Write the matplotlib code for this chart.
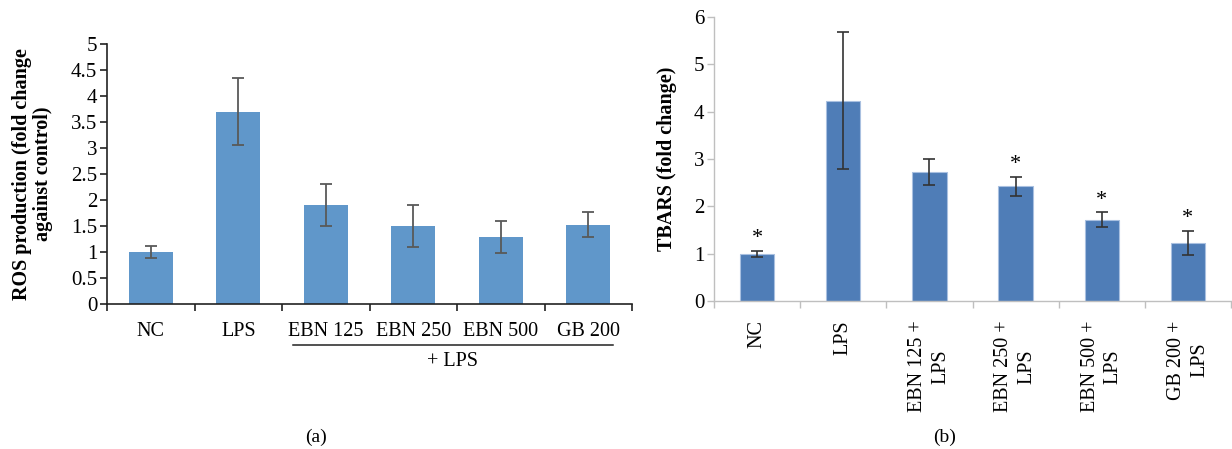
import numpy as np
import matplotlib
matplotlib.use('Agg')
import matplotlib.pyplot as plt
import matplotlib.transforms as mtransforms

plt.rcParams['font.family'] = ['Liberation Serif', 'DejaVu Serif']

# panel (a) - ROS production
ros_labels = ['NC', 'LPS', 'EBN 125', 'EBN 250', 'EBN 500', 'GB 200']
ros_mean = [1.0, 3.7, 1.9, 1.5, 1.29, 1.52]
ros_err = [0.12, 0.65, 0.40, 0.40, 0.31, 0.24]

# panel (b) - TBARS
tb_labels = ['NC', 'LPS', 'EBN 125 +\nLPS', 'EBN 250 +\nLPS', 'EBN 500 +\nLPS', 'GB 200 +\nLPS']
tb_mean = [1.0, 4.23, 2.73, 2.42, 1.72, 1.23]
tb_err = [0.06, 1.45, 0.28, 0.20, 0.15, 0.25]
tb_star = [True, False, False, True, True, True]

fig = plt.figure(figsize=(12.32, 4.49), dpi=100)

# ---------- (a)
ax1 = fig.add_axes([107/1232, 1-304/449, 525/1232, 260/449])
x = np.arange(len(ros_labels))
ax1.bar(x, ros_mean, width=0.5, color='#6097CA')
ax1.errorbar(x, ros_mean, yerr=ros_err, fmt='none', ecolor='#595959',
             elinewidth=1.3, capsize=4, capthick=1.3)
ax1.set_xlim(-0.5, 5.5)
ax1.set_ylim(0, 5)
ax1.set_yticks(np.arange(0, 5.01, 0.5))
ax1.set_yticklabels(['0', '0.5', '1', '1.5', '2', '2.5', '3', '3.5', '4', '4.5', '5'])
ax1.set_xticks(x)
ax1.set_xticklabels(ros_labels, fontsize=14.5)
ax1.set_xticks(np.arange(-0.5, 5.6, 1), minor=True)
ax1.tick_params(axis='x', which='major', length=0, pad=13)
ax1.tick_params(axis='x', which='minor', length=5, width=1.2, color='#222222', direction='out')
ax1.tick_params(axis='y', length=5, width=1.2, color='#222222', labelsize=15, pad=2)
for s in ['top', 'right']:
    ax1.spines[s].set_visible(False)
for s in ['left', 'bottom']:
    ax1.spines[s].set_color('#222222')
    ax1.spines[s].set_linewidth(1.2)
ax1.set_ylabel('ROS production (fold change\nagainst control)', fontsize=14.5,
               fontweight='bold', linespacing=1.05)
ax1.yaxis.set_label_coords(-0.103, 0.5)

trans = mtransforms.blended_transform_factory(ax1.transData, ax1.transAxes)
ax1.plot([1.63, 5.28], [-0.158, -0.158], color='#222222', lw=1.1,
         transform=trans, clip_on=False)
ax1.text(3.45, -0.223, '+ LPS', transform=trans, ha='center', va='center',
         fontsize=14.5)

fig.text(316/1232, 1-437/449, '(a)', ha='center', va='center', fontsize=14)

# ---------- (b)
ax2 = fig.add_axes([714/1232, 1-301/449, 517/1232, 284/449])
x2 = np.arange(len(tb_labels))
ax2.bar(x2, tb_mean, width=0.4, color='#4F7DB7', edgecolor='#A9C0E0', linewidth=0.8)
ax2.errorbar(x2, tb_mean, yerr=tb_err, fmt='none', ecolor='#333333',
             elinewidth=1.2, capsize=4, capthick=1.2)
for xi, m, e, st in zip(x2, tb_mean, tb_err, tb_star):
    if st:
        ax2.annotate('*', (xi, m + e), xytext=(0, 2), textcoords='offset points',
                     ha='center', va='bottom', fontsize=16)
ax2.set_xlim(-0.5, 5.5)
ax2.set_ylim(0, 6)
ax2.set_yticks(range(0, 7))
ax2.set_xticks(x2)
ax2.set_xticklabels(tb_labels, rotation=90, fontsize=14.5, ha='center', va='top',
                    multialignment='center', linespacing=1.3)
ax2.set_xticks(np.arange(-0.5, 5.6, 1), minor=True)
ax2.tick_params(axis='x', which='major', length=0, pad=14)
ax2.tick_params(axis='x', which='minor', length=5, width=1.0, color='#BFBFBF', direction='out')
ax2.tick_params(axis='y', length=5, width=1.0, color='#BFBFBF', labelsize=15, pad=2)
for s in ['top', 'right']:
    ax2.spines[s].set_visible(False)
for s in ['left', 'bottom']:
    ax2.spines[s].set_color('#BFBFBF')
    ax2.spines[s].set_linewidth(1.0)
ax2.set_ylabel('TBARS (fold change)', fontsize=14.5, fontweight='bold')
ax2.yaxis.set_label_coords(-0.072, 0.5)

fig.text(945/1232, 1-437/449, '(b)', ha='center', va='center', fontsize=14)

fig.savefig('out.png', dpi=100)
